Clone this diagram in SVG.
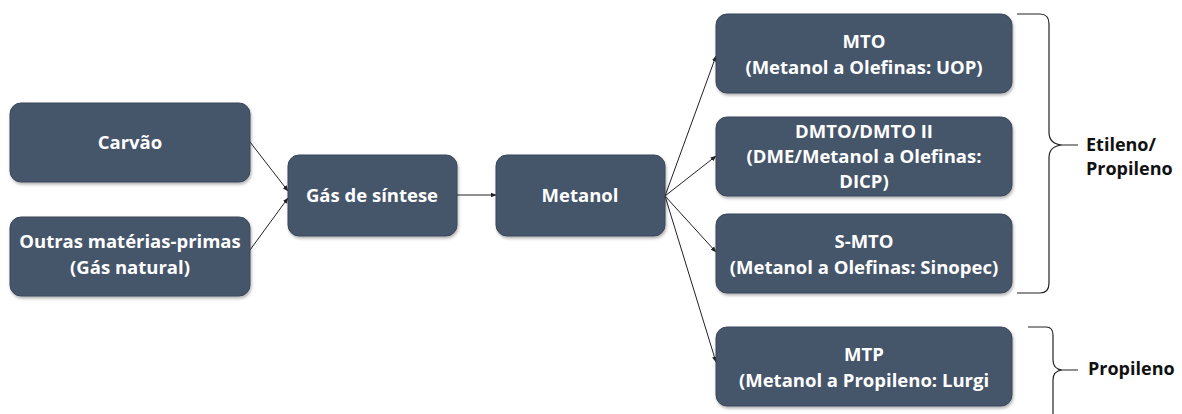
<svg xmlns="http://www.w3.org/2000/svg" width="1182" height="414" viewBox="0 0 1182 414">
<style>
.box{fill:#44546a;stroke:#3a475a;stroke-width:1}
.t{font-family:"Open Sans","Liberation Sans",sans-serif;font-weight:bold;font-size:18.5px;fill:#ffffff;text-anchor:middle}
.lbl{font-family:"Open Sans","Liberation Sans",sans-serif;font-weight:bold;font-size:18px;fill:#111111}
.c{stroke:#222222;stroke-width:1;fill:none}
.br{stroke:#222222;stroke-width:1.2;fill:none}
</style>
<defs>
<marker id="ah" viewBox="0 0 10 10" refX="9" refY="5" markerWidth="6" markerHeight="6" orient="auto" markerUnits="userSpaceOnUse">
<path d="M0,1 L10,5 L0,9 z" fill="#222222"/>
</marker>
<filter id="sh" x="-5%" y="-5%" width="110%" height="115%">
<feDropShadow dx="1" dy="2" stdDeviation="1.5" flood-color="#000000" flood-opacity="0.3"/>
</filter>
</defs>
<rect width="1182" height="414" fill="#ffffff"/>
<g id="connectors">
<line class="c" x1="250" y1="142" x2="288" y2="191" marker-end="url(#ah)"/>
<line class="c" x1="250" y1="250" x2="288" y2="198" marker-end="url(#ah)"/>
<line class="c" x1="457" y1="195" x2="496" y2="195" marker-end="url(#ah)"/>
<line class="c" x1="665" y1="196" x2="716" y2="56" marker-end="url(#ah)"/>
<line class="c" x1="665" y1="196" x2="716" y2="156" marker-end="url(#ah)"/>
<line class="c" x1="665" y1="196" x2="716" y2="252" marker-end="url(#ah)"/>
<line class="c" x1="665" y1="196" x2="716" y2="362" marker-end="url(#ah)"/>
</g>
<g id="carvao">
<rect class="box" filter="url(#sh)" x="10" y="103" width="240" height="79" rx="11"/>
<text class="t" x="130" y="149">Carvão</text>
</g>
<g id="outras">
<rect class="box" filter="url(#sh)" x="10" y="217" width="240" height="79" rx="11"/>
<text class="t" x="130" y="248">Outras matérias-primas</text>
<text class="t" x="130" y="274">(Gás natural)</text>
</g>
<g id="gas">
<rect class="box" filter="url(#sh)" x="288" y="155" width="169" height="81" rx="11"/>
<text class="t" x="372" y="202">Gás de síntese</text>
</g>
<g id="metanol">
<rect class="box" filter="url(#sh)" x="496" y="155" width="169" height="81" rx="11"/>
<text class="t" x="580" y="202">Metanol</text>
</g>
<g id="mto">
<rect class="box" filter="url(#sh)" x="716" y="14" width="296" height="79" rx="11"/>
<text class="t" x="864" y="48">MTO</text>
<text class="t" x="864" y="74">(Metanol a Olefinas: UOP)</text>
</g>
<g id="dmto">
<rect class="box" filter="url(#sh)" x="716" y="117" width="296" height="79" rx="11"/>
<text class="t" x="864" y="138">DMTO/DMTO II</text>
<text class="t" x="864" y="163">(DME/Metanol a Olefinas:</text>
<text class="t" x="864" y="188">DICP)</text>
</g>
<g id="smto">
<rect class="box" filter="url(#sh)" x="716" y="214" width="296" height="79" rx="11"/>
<text class="t" x="864" y="248">S-MTO</text>
<text class="t" x="864" y="274">(Metanol a Olefinas: Sinopec)</text>
</g>
<g id="mtp">
<rect class="box" filter="url(#sh)" x="716" y="327" width="296" height="79" rx="11"/>
<text class="t" x="864" y="361">MTP</text>
<text class="t" x="864" y="387">(Metanol a Propileno: Lurgi</text>
</g>
<g id="brace-etileno">
<path class="br" d="M1017,14 L1040,14 Q1049,14 1049,24 L1049,132 Q1049,144 1062,145 L1078,145 M1062,145 Q1049,146 1049,158 L1049,283 Q1049,293 1040,293 L1017,293"/>
<text class="lbl" x="1086" y="151">Etileno/</text>
<text class="lbl" x="1086" y="175">Propileno</text>
</g>
<g id="brace-propileno">
<path class="br" d="M1028,327 L1046,327 Q1053,327 1053,335 L1053,360 Q1053,369 1062,370 L1078,370 M1062,370 Q1053,371 1053,380 L1053,414"/>
<text class="lbl" x="1088" y="375">Propileno</text>
</g>
</svg>
